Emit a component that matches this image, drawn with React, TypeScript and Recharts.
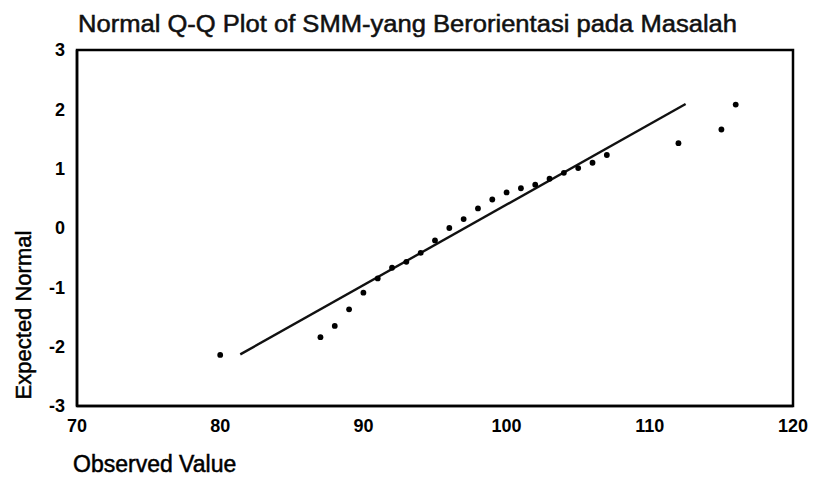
import { ScatterChart, Scatter, XAxis, YAxis, Label, ReferenceArea } from 'recharts';

const observed = [80, 87, 88, 89, 90, 91, 92, 93, 94, 95, 96, 97, 98, 99, 100, 101, 102, 103, 104, 105, 106, 107, 112, 115, 116];
const expected = [-2.14, -1.84, -1.65, -1.37, -1.09, -0.85, -0.67, -0.57, -0.42, -0.21, 0.0, 0.15, 0.33, 0.48, 0.6, 0.67, 0.73, 0.83, 0.93, 1.01, 1.1, 1.23, 1.43, 1.66, 2.08];

// reference line ends
const lineX = [81.4, 112.5];
const lineY = [-2.13, 2.09];

const xTicks = [70, 80, 90, 100, 110, 120];
const yTicks = [-3, -2, -1, 0, 1, 2, 3];

const title = 'Normal Q-Q Plot of SMM-yang Berorientasi pada Masalah';
const font = '"Liberation Sans", Arial, sans-serif';

export default function App() {
  const points = observed.map((x, i) => ({ x, y: expected[i] }));
  const line = lineX.map((x, i) => ({ x, y: lineY[i] }));

  return (
    <div style={{ position: 'absolute', left: 0, top: 0, width: 813, height: 479, background: '#fff', fontFamily: font }}>
      <svg width={813} height={479} style={{ position: 'absolute', left: 0, top: 0 }}>
        <text
          x={78}
          y={32}
          fontSize={23}
          fontFamily={font}
          fill="#111"
          stroke="#111"
          strokeWidth={0.5}
          textLength={659}
          lengthAdjust="spacingAndGlyphs"
        >
          {title}
        </text>
      </svg>
      <div style={{ position: 'absolute', left: 0, top: 0 }}>
        <ScatterChart width={813} height={479} margin={{ top: 50, right: 20, left: 0, bottom: 0 }}>
          <XAxis
            type="number"
            dataKey="x"
            domain={[70, 120]}
            ticks={xTicks}
            height={73}
            axisLine={{ stroke: '#000', strokeWidth: 2.5 }}
            tickLine={false}
            tickMargin={7}
            tick={{ fill: '#000', fontSize: 18, fontWeight: 'bold', fontFamily: font }}
            allowDataOverflow
          >
            <Label
              content={({ viewBox }: any) => (
                <text
                  x={viewBox.x - 4}
                  y={viewBox.y + 66}
                  fontSize={23}
                  fontFamily={font}
                  fill="#000"
                  stroke="#000"
                  strokeWidth={0.5}
                >
                  Observed Value
                </text>
              )}
            />
          </XAxis>
          <YAxis
            type="number"
            dataKey="y"
            domain={[-3, 3]}
            ticks={yTicks}
            width={77}
            axisLine={{ stroke: '#000', strokeWidth: 2.5 }}
            tickLine={false}
            tickMargin={6}
            tick={{ fill: '#000', fontSize: 18, fontWeight: 'bold', fontFamily: font }}
            allowDataOverflow
          >
            <Label
              content={({ viewBox }: any) => (
                <text
                  x={viewBox.x + 31}
                  y={viewBox.y + 265}
                  fontSize={22}
                  fontFamily={font}
                  fill="#000"
                  stroke="#000"
                  strokeWidth={0.5}
                  textAnchor="middle"
                  transform={`rotate(-90, ${viewBox.x + 31}, ${viewBox.y + 265})`}
                >
                  Expected Normal
                </text>
              )}
            />
          </YAxis>
          <ReferenceArea x1={70} x2={120} y1={-3} y2={3} fill="none" stroke="#000" strokeWidth={2.5} ifOverflow="visible" />
          <Scatter
            data={line}
            line={{ stroke: '#111', strokeWidth: 2.4 }}
            shape={() => <g />}
            isAnimationActive={false}
          />
          <Scatter
            data={points}
            fill="#000"
            shape={(p: any) => <circle cx={p.cx} cy={p.cy} r={2.9} fill="#000" />}
            isAnimationActive={false}
          />
        </ScatterChart>
      </div>
    </div>
  );
}
